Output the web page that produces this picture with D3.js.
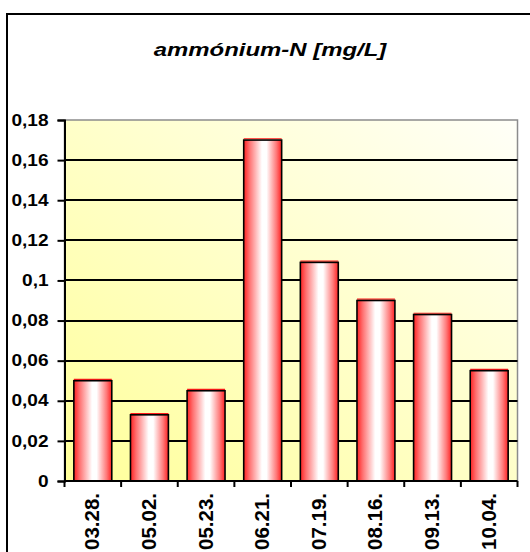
<!DOCTYPE html>
<html>
<head>
<meta charset="utf-8">
<script src="https://cdn.jsdelivr.net/npm/d3@7"></script>
<style>
  html, body { margin: 0; padding: 0; background: #fff; }
  svg { display: block; font-family: "Liberation Sans", Arial, sans-serif; }
</style>
</head>
<body>
<svg id="chart" width="530" height="552"></svg>
<script>
// Sampling dates and ammonium-N concentrations (mg/L)
const dates = ["03.28.", "05.02.", "05.23.", "06.21.", "07.19.", "08.16.", "09.13.", "10.04."];
const ammonium = [0.05, 0.033, 0.045, 0.17, 0.109, 0.09, 0.083, 0.055];
const yTicks = [0, 0.02, 0.04, 0.06, 0.08, 0.1, 0.12, 0.14, 0.16, 0.18];
const yTickLabels = ["0", "0,02", "0,04", "0,06", "0,08", "0,1", "0,12", "0,14", "0,16", "0,18"];
const title = "ammónium-N [mg/L]";

const svg = d3.select("#chart");
const plot = { left: 64.5, right: 517.5, top: 120, bottom: 481 };

const x = d3.scaleBand().domain(dates).range([plot.left, plot.right]).paddingInner(0.33).paddingOuter(0.165);
const y = d3.scaleLinear().domain([0, 0.18]).range([plot.bottom, plot.top]);

const defs = svg.append("defs");
const bg = defs.append("linearGradient").attr("id", "plotBg")
  .attr("x1", 0).attr("y1", 1).attr("x2", 1).attr("y2", 0);
bg.append("stop").attr("offset", 0).attr("stop-color", "#ffff9a");
bg.append("stop").attr("offset", 1).attr("stop-color", "#fffff8");

const barGrad = defs.append("linearGradient").attr("id", "barFill")
  .attr("x1", 0).attr("y1", 0).attr("x2", 1).attr("y2", 0);
[[0, "#ff2020"], [0.15, "#ff7070"], [0.48, "#ffffff"], [0.6, "#ffffff"], [0.86, "#ff7a7a"], [1, "#ff2020"]]
  .forEach(([o, c]) => barGrad.append("stop").attr("offset", o).attr("stop-color", c));

// Outer chart frame (runs past the right and bottom edges)
svg.append("rect").attr("x", 7).attr("y", 14).attr("width", 540).attr("height", 560)
  .attr("fill", "#fff").attr("stroke", "#000").attr("stroke-width", 2);

// Title
svg.append("text").attr("transform", "translate(270,56) scale(1.33,1)")
  .attr("text-anchor", "middle")
  .attr("font-size", 18).attr("font-weight", "bold").attr("font-style", "italic")
  .text(title);

// Plot area background
svg.append("rect").attr("x", plot.left).attr("y", plot.top)
  .attr("width", plot.right - plot.left).attr("height", plot.bottom - plot.top)
  .attr("fill", "url(#plotBg)").attr("stroke", "#8c8c8c").attr("stroke-width", 1.5);

// Horizontal gridlines
svg.append("g").selectAll("line").data(yTicks.filter(t => t > 0 && t < 0.18)).join("line")
  .attr("x1", plot.left).attr("x2", plot.right)
  .attr("y1", d => Math.round(y(d))).attr("y2", d => Math.round(y(d)))
  .attr("stroke", "#000").attr("stroke-width", 2);

// Bars: red cap line just above each bar, then the shaded bar body
const bars = svg.append("g");
bars.selectAll("line").data(ammonium).join("line")
  .attr("x1", (d, i) => x(dates[i]))
  .attr("x2", (d, i) => x(dates[i]) + x.bandwidth())
  .attr("y1", d => y(d) - 1.3).attr("y2", d => y(d) - 1.3)
  .attr("stroke", "#ff1a1a").attr("stroke-width", 1.2);
bars.selectAll("rect").data(ammonium).join("rect")
  .attr("x", (d, i) => x(dates[i]))
  .attr("y", d => y(d))
  .attr("width", x.bandwidth())
  .attr("height", d => plot.bottom - y(d))
  .attr("fill", "url(#barFill)")
  .attr("stroke", "#000").attr("stroke-width", 1.6);

// Y axis
const yAxis = d3.axisLeft(y).tickValues(yTicks)
  .tickFormat((d, i) => yTickLabels[i]).tickSize(7);
const gy = svg.append("g").attr("transform", `translate(${plot.left},0)`).call(yAxis);
gy.select(".domain").attr("stroke", "#000").attr("stroke-width", 2);
gy.selectAll(".tick line").attr("stroke", "#000").attr("stroke-width", 2);
gy.selectAll(".tick text")
  .attr("x", 0)
  .attr("transform", "translate(-16,0) scale(1.19,1)")
  .attr("font-size", 16).attr("font-weight", "bold")
  .attr("fill", "#000").attr("font-family", "Liberation Sans, Arial, sans-serif");

// X axis: ticks at category boundaries
const bounds = dates.map(d => x(d) - x.step() * x.paddingInner() / 2);
bounds.push(plot.right);
const gx = svg.append("g");
gx.append("line").attr("x1", plot.left).attr("x2", plot.right)
  .attr("y1", plot.bottom).attr("y2", plot.bottom)
  .attr("stroke", "#000").attr("stroke-width", 2);
gx.selectAll("line.tk").data(bounds).join("line").attr("class", "tk")
  .attr("x1", d => d).attr("x2", d => d)
  .attr("y1", plot.bottom).attr("y2", plot.bottom + 6)
  .attr("stroke", "#000").attr("stroke-width", 2);
gx.selectAll("text").data(dates).join("text")
  .attr("transform", d => `translate(${x(d) + x.bandwidth() / 2 + 6.5},${plot.bottom + 12}) rotate(-90)`)
  .attr("text-anchor", "end")
  .attr("font-size", 20.5).attr("font-weight", "bold")
  .text(d => d);
</script>
</body>
</html>
